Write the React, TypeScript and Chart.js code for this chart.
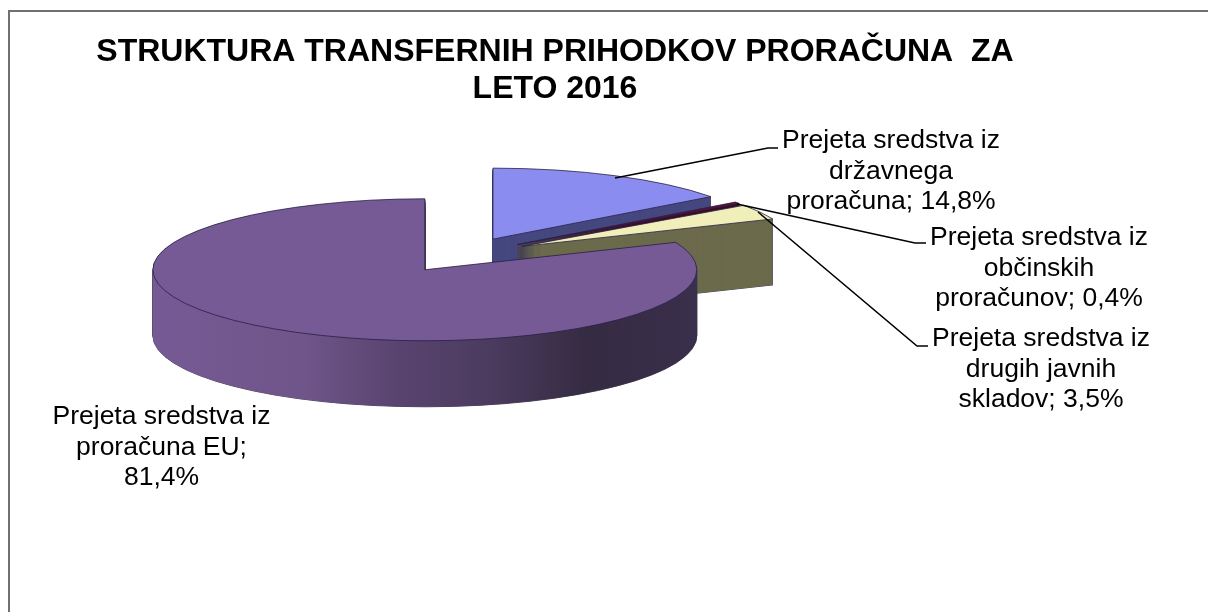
import React, { useEffect, useRef } from "react";
import { Chart, registerables } from "chart.js";

Chart.register(...registerables);

const categories = [
  "Prejeta sredstva iz državnega proračuna",
  "Prejeta sredstva iz občinskih proračunov",
  "Prejeta sredstva iz drugih javnih skladov",
  "Prejeta sredstva iz proračuna EU",
];
const shares = [14.8, 0.4, 3.5, 81.4];
const topColors = ["#8b8cef", "#5d1036", "#f0efb9", "#765a95"];
const wallColors = ["#45487f", "#3d0b24", "#6b6b4c", "#5a4470"];
const titleLines = ["STRUKTURA TRANSFERNIH PRIHODKOV PRORAČUNA  ZA", "LETO 2016"];
const labelLines = [
  ["Prejeta sredstva iz", "državnega", "proračuna; 14,8%"],
  ["Prejeta sredstva iz", "občinskih", "proračunov; 0,4%"],
  ["Prejeta sredstva iz", "drugih javnih", "skladov; 3,5%"],
  ["Prejeta sredstva iz", "proračuna EU;", "81,4%"],
];
const labelCentersX = [891, 1039, 1041, 161.5];
const labelFirstBaselineY = [148, 245, 346, 424];
const leaders: number[][][] = [
  [[615, 178], [768, 148], [778, 148]],
  [[737, 204], [915, 243], [926, 243]],
  [[758, 212], [917, 346], [928, 346]],
];

const RADIUS = 272;
const SQUASH = 0.261;
const EXPLODE = 68;
const DEPTH = 66;
const PIE_X = 462.5;
const PIE_Y = 255;
const FONT = '"Liberation Sans", Arial, sans-serif';

function place(ctx: CanvasRenderingContext2D, arc: any, dy: number) {
  const mid = (arc.startAngle + arc.endAngle) / 2;
  ctx.translate(
    PIE_X + Math.cos(mid) * EXPLODE,
    PIE_Y + dy + Math.sin(mid) * EXPLODE * SQUASH
  );
  ctx.scale(1, SQUASH);
  ctx.translate(-arc.x, -arc.y);
}

function strokeOutline(ctx: CanvasRenderingContext2D, arc: any, dy: number, color: string, width: number) {
  ctx.save();
  ctx.save();
  place(ctx, arc, dy);
  ctx.beginPath();
  ctx.moveTo(arc.x, arc.y);
  ctx.arc(arc.x, arc.y, arc.outerRadius, arc.startAngle, arc.endAngle);
  ctx.closePath();
  ctx.restore();
  ctx.strokeStyle = color;
  ctx.lineWidth = width;
  ctx.lineJoin = "round";
  ctx.stroke();
  ctx.restore();
}

const pie3d = {
  id: "pie3d",
  beforeDatasetsDraw(chart: any) {
    const ctx: CanvasRenderingContext2D = chart.ctx;
    const arcs = chart.getDatasetMeta(0).data;
    arcs.forEach((arc: any, i: number) => {
      const base = arc.options;
      let wall: any = wallColors[i];
      if (i === 3) {
        const g = ctx.createLinearGradient(arc.x - RADIUS, 0, arc.x + RADIUS, 0);
        g.addColorStop(0, "#765a95");
        g.addColorStop(0.28, "#6f5589");
        g.addColorStop(0.44, "#5a4470");
        g.addColorStop(0.62, "#4b3b5f");
        g.addColorStop(0.8, "#352b42");
        g.addColorStop(1, "#3a2f4c");
        wall = g;
      }
      // silhouette of the extruded wall, kept behind its fill
      for (let d = DEPTH; d >= 1; d--) {
        strokeOutline(ctx, arc, d, "#4a4456", 1);
      }
      arc.options = { ...base, backgroundColor: wall, borderWidth: 0 };
      for (let d = DEPTH; d >= 1; d--) {
        ctx.save();
        place(ctx, arc, d);
        arc.draw(ctx);
        ctx.restore();
      }
      arc.options = { ...base, borderWidth: 0 };
      ctx.save();
      place(ctx, arc, 0);
      arc.draw(ctx);
      ctx.restore();
      arc.options = base;
      strokeOutline(ctx, arc, 0, "rgba(40,30,70,0.8)", 1);
    });
    return false;
  },
};

const labelsPlugin = {
  id: "pieLabels",
  afterDraw(chart: any) {
    const ctx: CanvasRenderingContext2D = chart.ctx;
    ctx.save();
    ctx.strokeStyle = "#000";
    ctx.lineWidth = 1.6;
    leaders.forEach((pts) => {
      ctx.beginPath();
      pts.forEach(([x, y], i) => (i ? ctx.lineTo(x, y) : ctx.moveTo(x, y)));
      ctx.stroke();
    });
    ctx.fillStyle = "#000";
    ctx.font = `26.5px ${FONT}`;
    ctx.textAlign = "center";
    ctx.textBaseline = "alphabetic";
    labelLines.forEach((lines, i) => {
      lines.forEach((line, j) => {
        ctx.fillText(line, labelCentersX[i], labelFirstBaselineY[i] + j * 30.7);
      });
    });
    ctx.restore();
  },
};

export default function App() {
  const ref = useRef<HTMLCanvasElement | null>(null);
  useEffect(() => {
    document.body.style.margin = "0";
    document.body.style.background = "#fff";
    const chart = new Chart(ref.current!, {
      type: "pie",
      data: {
        labels: categories,
        datasets: [
          { data: shares, backgroundColor: topColors, borderWidth: 0 },
        ],
      },
      options: {
        responsive: false,
        animation: false,
        radius: RADIUS,
        layout: { padding: { right: 98 } },
        plugins: {
          legend: { display: false },
          tooltip: { enabled: false },
          title: {
            display: true,
            text: titleLines,
            color: "#000",
            font: { family: FONT, size: 32, weight: "bold", lineHeight: 1.17 },
            padding: { top: 33, bottom: 0 },
          },
        },
      } as any,
      plugins: [pie3d, labelsPlugin],
    });
    return () => chart.destroy();
  }, []);
  return (
    <div style={{ position: "relative", width: 1208, height: 612, background: "#fff", overflow: "hidden" }}>
      <div
        style={{
          position: "absolute",
          left: 8,
          top: 10,
          width: 1400,
          height: 800,
          border: "2px solid #707070",
          boxSizing: "border-box",
        }}
      />
      <canvas ref={ref} width={1208} height={612} style={{ position: "absolute", left: 0, top: 0, display: "block" }} />
    </div>
  );
}
